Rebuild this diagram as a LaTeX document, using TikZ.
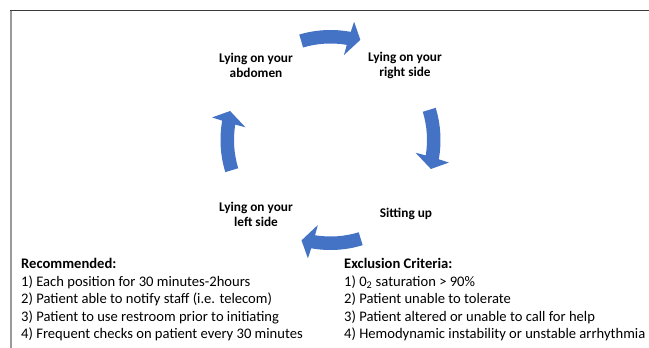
\documentclass[tikz,border=0pt]{standalone}
\usepackage{fontspec}
\setmainfont{Carlito}
\usetikzlibrary{calc}
\definecolor{arrowblue}{HTML}{4472C4}
\definecolor{framedark}{HTML}{3A3A3A}
\definecolor{framelight}{HTML}{9A9A9A}
\tikzset{
  lbl/.style={font=\bfseries\fontsize{13.3}{15.5}\selectfont, align=center, inner sep=0pt},
  item/.style={font=\fontsize{14.6}{17}\selectfont, anchor=base west, inner sep=0pt},
  cyc/.style={fill=arrowblue, draw=none},
}
\newcommand{\cycarrow}[1]{%
  \fill[cyc] ($(C)+(#1+13.5:96.5)$)
     arc[start angle=#1+13.5, end angle=#1-12.7, radius=96.5]
     -- ($(C)+(#1-12:86)$)
     -- ($(C)+(#1-19.6:104.5)$)
     -- ($(C)+(#1-14.3:120.5)$)
     -- ($(C)+(#1-13.6:110)$)
     arc[start angle=#1-13.6, end angle=#1+13.5, radius=110]
     -- cycle;
}
\begin{document}
\begin{tikzpicture}[x=1pt,y=1pt]
\useasboundingbox (0,0) rectangle (649,348);
% frame
\coordinate (ftl) at (11,337.5);
\coordinate (ftr) at (649,337.5);
\coordinate (fbl) at (11,0);
\draw[framelight, line width=2pt] (ftl) -- (fbl);
\draw[framedark, line width=1.4pt] (10,337.5) -- (ftr);
% cycle centre
\coordinate (C) at (330.5,208);
\cycarrow{93}
\cycarrow{3.5}
\cycarrow{-86.5}
\cycarrow{183.5}
% labels
\node[lbl] (abd) at (256,282.5) {Lying on your\\abdomen};
\node[lbl] (rgt) at (405,282.5) {Lying on your\\right side};
\node[lbl] (sit) at (406,134) {Sitting up};
\node[lbl] (lft) at (256,133.5) {Lying on your\\left side};
% recommended
\node[item] (r0) at (21,79) {\textbf{Recommended:}};
\node[item] (r1) at (21,61.5) {1) Each position for 30 minutes-2hours};
\node[item] (r2) at (21,44) {2) Patient able to notify staff (i.e. telecom)};
\node[item] (r3) at (21,26.5) {3) Patient to use restroom prior to initiating};
\node[item] (r4) at (21,9) {4) Frequent checks on patient every 30 minutes};
% exclusion
\node[item] (e0) at (344,79) {\textbf{Exclusion Criteria:}};
\node[item] (e1) at (344,61.5) {1) 0\textsubscript{2} saturation > 90\%};
\node[item] (e2) at (344,44) {2) Patient unable to tolerate};
\node[item] (e3) at (344,26.5) {3) Patient altered or unable to call for help};
\node[item] (e4) at (344,9) {4) Hemodynamic instability or unstable arrhythmia};
\end{tikzpicture}
\end{document}
